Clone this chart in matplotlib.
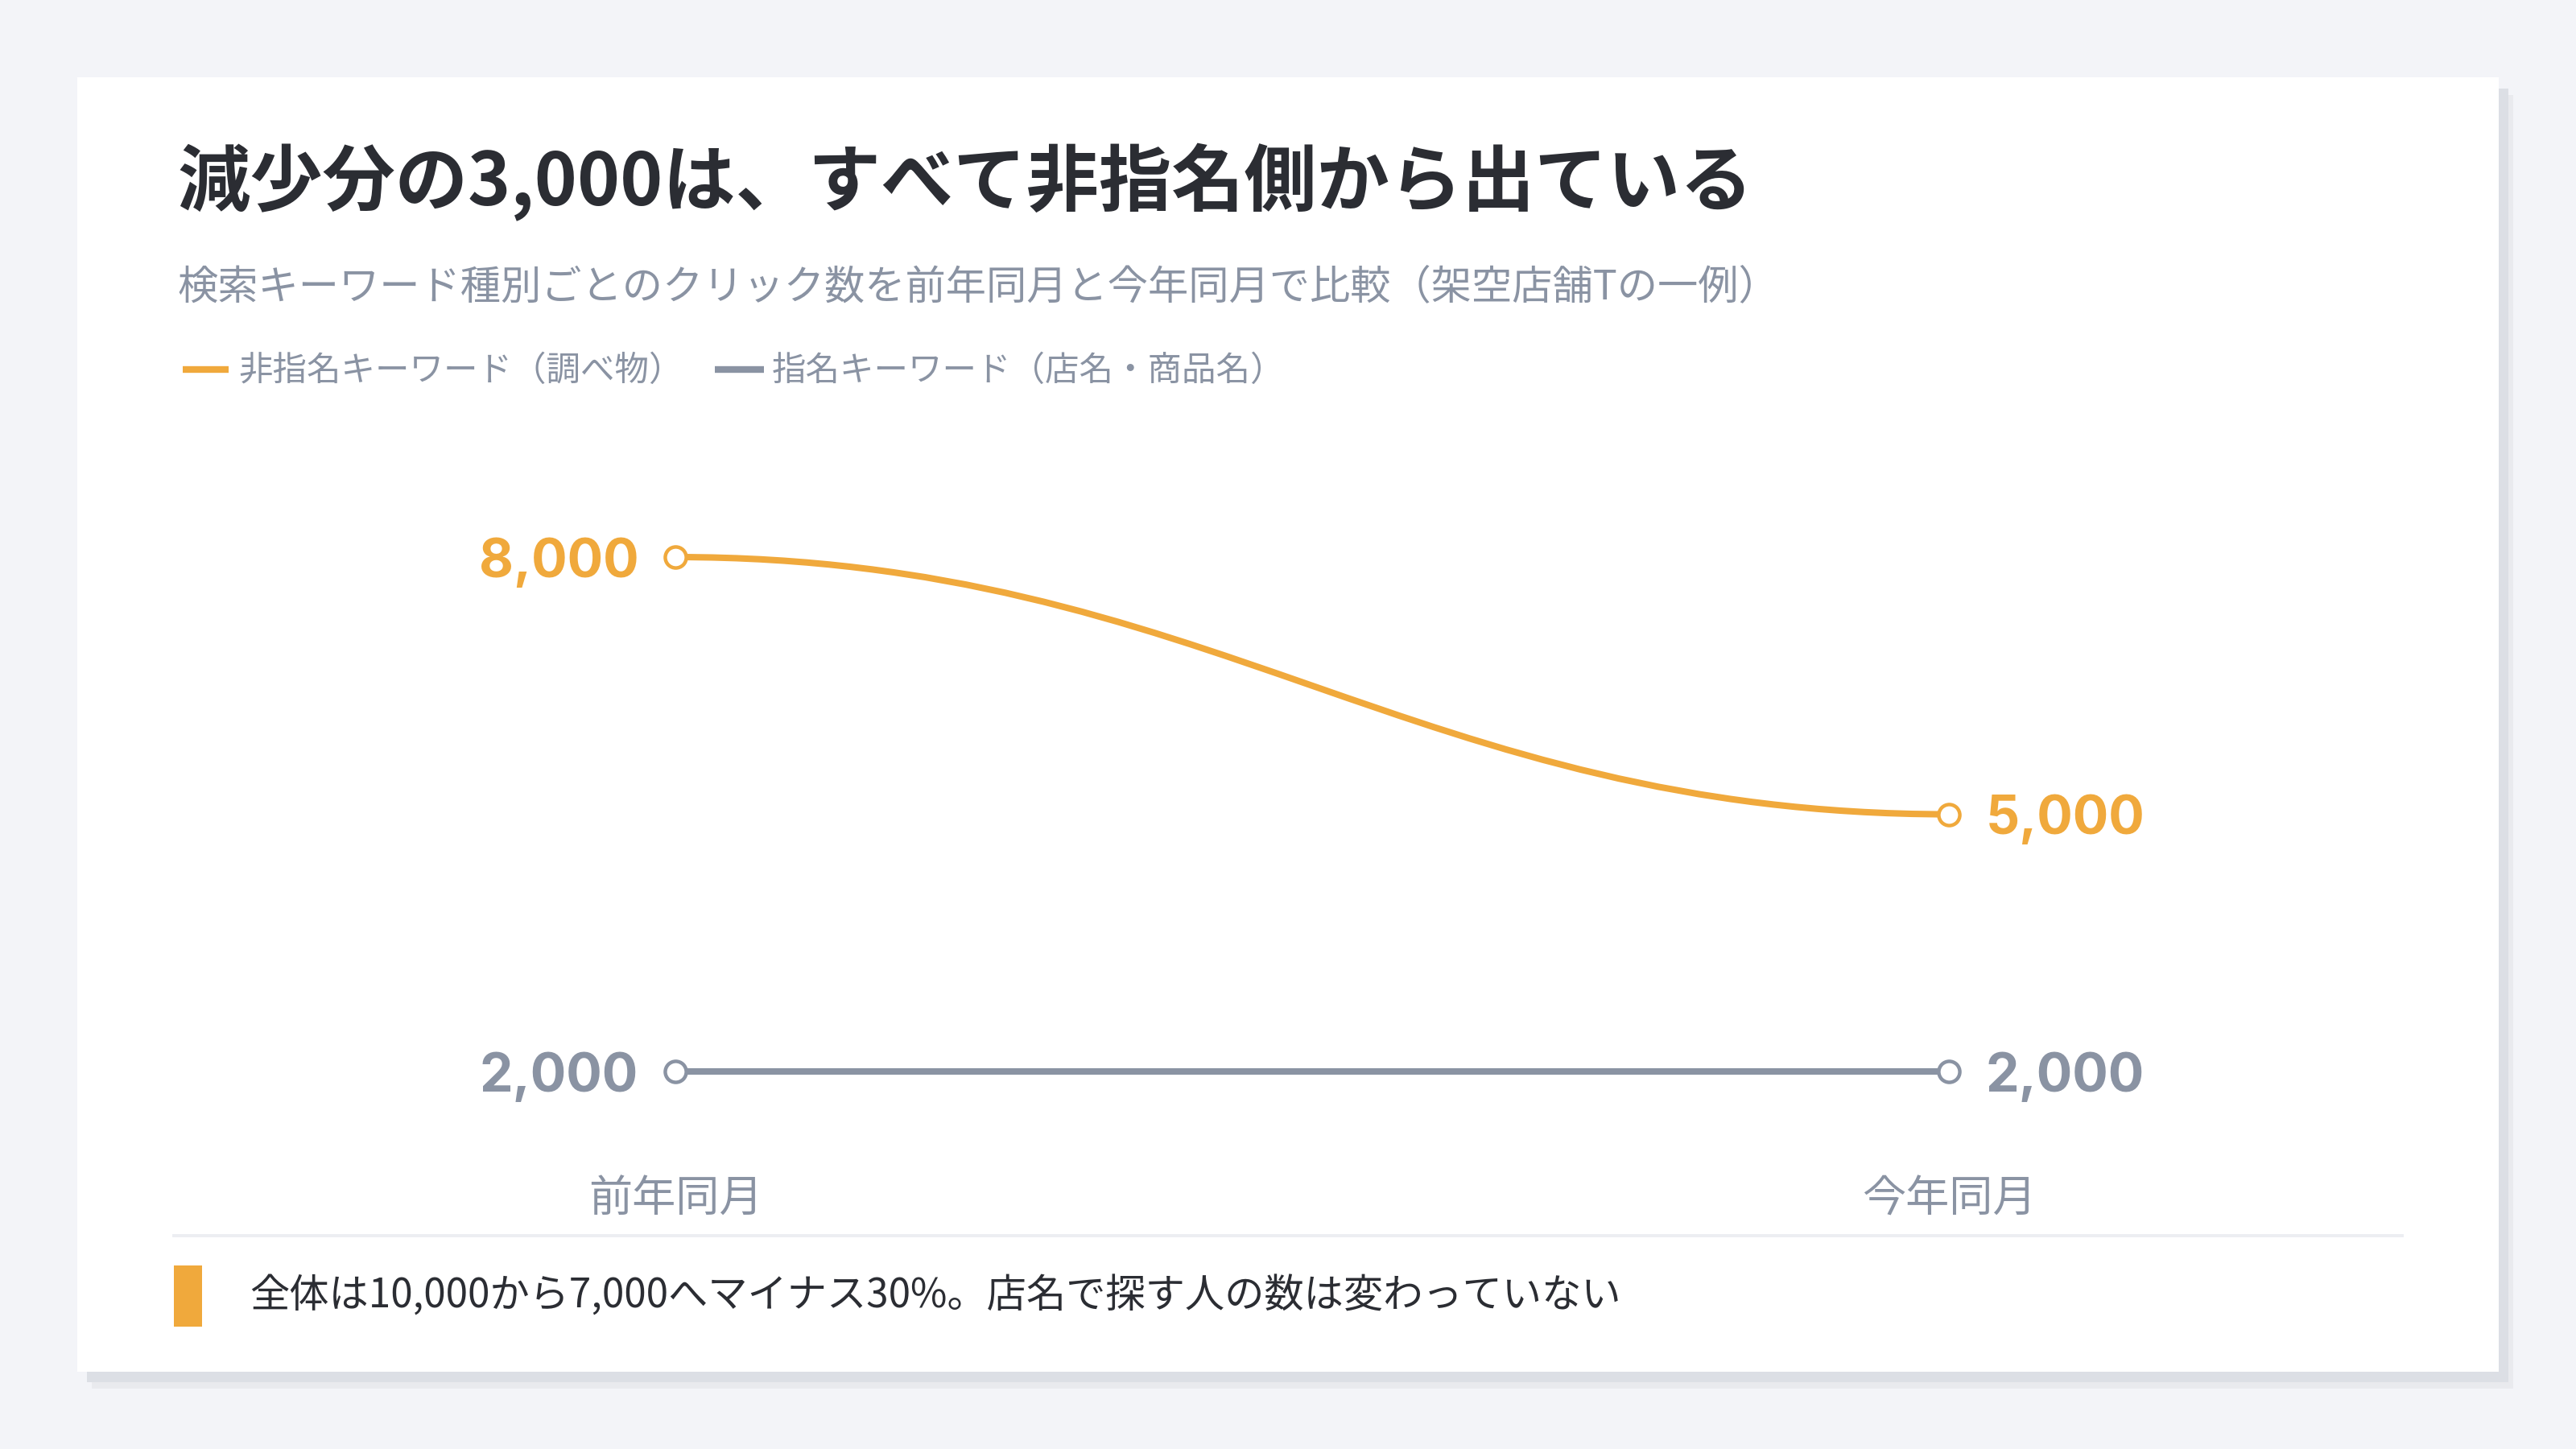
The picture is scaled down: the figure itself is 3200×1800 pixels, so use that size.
import matplotlib
matplotlib.use("Agg")
import matplotlib.pyplot as plt
from matplotlib.patches import Rectangle, PathPatch
from matplotlib.lines import Line2D
from matplotlib.path import Path

plt.rcParams["font.family"] = ["Noto Sans CJK JP", "DejaVu Sans"]

# data
periods = ["前年同月", "今年同月"]
series_names = ["非指名キーワード（調べ物）", "指名キーワード（店名・商品名）"]
non_brand = [8000, 5000]
brand = [2000, 2000]
title = "減少分の3,000は、すべて非指名側から出ている"
subtitle = "検索キーワード種別ごとのクリック数を前年同月と今年同月で比較（架空店舗Tの一例）"
note = "全体は10,000から7,000へマイナス30%。店名で探す人の数は変わっていない"

ORANGE = "#f0a93c"
SLATE = "#8a93a3"
INK = "#2b2d33"
BG = "#f3f4f8"

W, H = 3200, 1800
fig = plt.figure(figsize=(16, 9), dpi=200, facecolor=BG)


def fx(x):
    return x / W


def fy(y):
    return 1 - y / H


def box(x0, y0, x1, y1, color, z):
    fig.add_artist(Rectangle((fx(x0), fy(y1)), fx(x1 - x0), (y1 - y0) / H,
                             transform=fig.transFigure, facecolor=color,
                             edgecolor="none", zorder=z))


# card with soft shadow
box(114, 118, 3122, 1725, "#e9eaee", -12)
box(108, 110, 3116, 1717, "#dcdfe5", -11)
box(96, 96, 3104, 1704, "white", -10)

# header
fig.text(fx(220), fy(226), title, fontsize=32.5, fontweight="bold", color=INK,
         va="center", ha="left")
fig.text(fx(220), fy(357), subtitle, fontsize=18.1, color=SLATE,
         va="center", ha="left")

# legend
legend_items = [(227, 284, 296, ORANGE), (888, 949, 959, SLATE)]
for (x0, x1, xt, c), name in zip(legend_items, series_names):
    fig.add_artist(Line2D([fx(x0), fx(x1)], [fy(459), fy(459)], color=c,
                          lw=3, solid_capstyle="butt", transform=fig.transFigure))
    fig.text(fx(xt), fy(461), name, fontsize=15.3, color=SLATE, va="center", ha="left")

# chart
ax = fig.add_axes([fx(216), fy(1440), fx(2984 - 216), 840 / H])
ax.set_facecolor("none")
ax.axis("off")
ax.set_xlim(-0.3938, 1.3559)
ax.set_ylim(977, 8864)

xs = [0, 1]
# smooth S-curve for the declining series
k = 0.42
verts = [(xs[0], non_brand[0]), (xs[0] + k, non_brand[0]),
         (xs[1] - k, non_brand[1]), (xs[1], non_brand[1])]
curve = Path(verts, [Path.MOVETO, Path.CURVE4, Path.CURVE4, Path.CURVE4])
ax.add_patch(PathPatch(curve, facecolor="none", edgecolor=ORANGE, lw=2.9,
                       capstyle="round", zorder=2))
ax.plot(xs, brand, color=SLATE, lw=2.9, zorder=2)

for vals, c in [(non_brand, ORANGE), (brand, SLATE)]:
    ax.plot(xs, vals, ls="none", marker="o", ms=9.4, mew=1.6,
            mfc="white", mec=c, zorder=3)
    ax.annotate(f"{vals[0]:,}", (xs[0], vals[0]), xytext=(-16.5, 0),
                textcoords="offset points", ha="right", va="center_baseline",
                fontsize=23.8, fontweight="bold", color=c,
                family=["Inter", "DejaVu Sans"])
    ax.annotate(f"{vals[1]:,}", (xs[1], vals[1]), xytext=(16.5, 0),
                textcoords="offset points", ha="left", va="center_baseline",
                fontsize=23.8, fontweight="bold", color=c,
                family=["Inter", "DejaVu Sans"])

for x, lab in zip(xs, periods):
    ax.text(x, -0.06, lab, transform=ax.get_xaxis_transform(), ha="center",
            va="center", fontsize=19.5, color=SLATE)

# divider and footnote
fig.add_artist(Line2D([fx(216), fx(2984)], [fy(1535), fy(1535)], color="#eceef2",
                      lw=1.4, transform=fig.transFigure))
box(216, 1572, 251, 1648, ORANGE, 1)
fig.text(fx(310), fy(1611), note, fontsize=17.75, color=INK, va="center", ha="left")

fig.savefig("out.png", dpi=200, facecolor=BG)
